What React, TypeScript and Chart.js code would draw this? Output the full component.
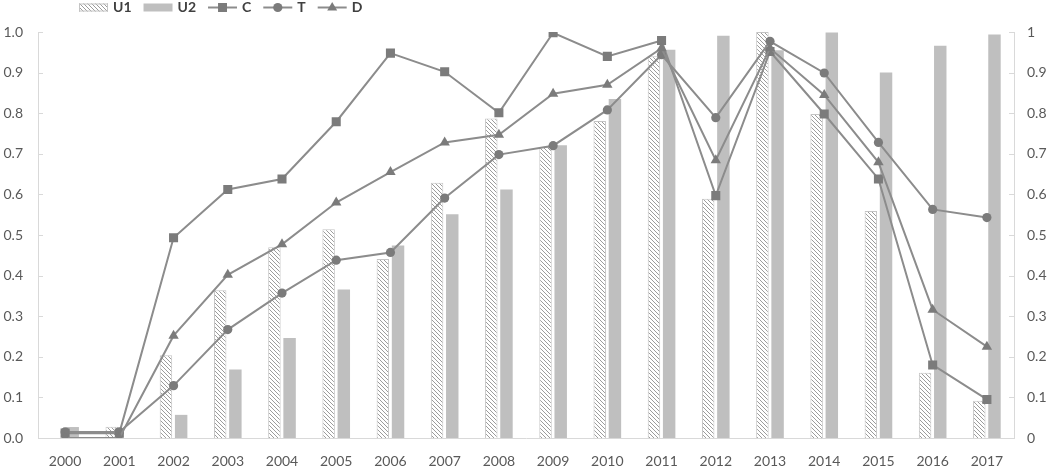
import React, { useEffect, useRef } from 'react';
import { Chart, registerables } from 'chart.js';

Chart.register(...registerables);

const years = ['2000', '2001', '2002', '2003', '2004', '2005', '2006', '2007', '2008', '2009', '2010', '2011', '2012', '2013', '2014', '2015', '2016', '2017'];
const u1 = [0, 0.028, 0.204, 0.364, 0.47, 0.514, 0.441, 0.629, 0.787, 0.717, 0.781, 0.94, 0.589, 1.0, 0.798, 0.559, 0.161, 0.092];
const u2 = [0.027, 0, 0.057, 0.169, 0.246, 0.366, 0.474, 0.551, 0.612, 0.721, 0.835, 0.956, 0.991, 0.955, 0.999, 0.9, 0.966, 0.994];
const cVals = [0.012, 0.012, 0.493, 0.612, 0.638, 0.779, 0.948, 0.902, 0.801, 0.998, 0.94, 0.979, 0.597, 0.952, 0.798, 0.638, 0.18, 0.095];
const tVals = [0.015, 0.015, 0.129, 0.267, 0.357, 0.438, 0.457, 0.591, 0.698, 0.72, 0.808, 0.944, 0.789, 0.977, 0.899, 0.728, 0.563, 0.543];
const dVals = [0, 0, 0.252, 0.402, 0.477, 0.58, 0.655, 0.728, 0.747, 0.848, 0.87, 0.96, 0.684, 0.96, 0.845, 0.679, 0.316, 0.225];
const seriesLabels = ['U1', 'U2', 'C', 'T', 'D'];

const LINE_COLOR = '#8c8c8c';
const MARKER_COLOR = '#7b7b7b';
const AXIS_COLOR = '#d9d9d9';
const TICK_COLOR = '#595959';
const FONT = 'Lato';

function drawMarker(ctx: CanvasRenderingContext2D, style: string, x: number, y: number) {
  ctx.fillStyle = MARKER_COLOR;
  ctx.beginPath();
  if (style === 'rect') {
    ctx.rect(x - 4.5, y - 4.5, 9, 9);
  } else if (style === 'circle') {
    ctx.arc(x, y, 4.6, 0, Math.PI * 2);
  } else {
    ctx.moveTo(x, y - 5.5);
    ctx.lineTo(x + 5, y + 3);
    ctx.lineTo(x - 5, y + 3);
    ctx.closePath();
  }
  ctx.fill();
}

const legendPlugin = {
  id: 'customLegend',
  afterDraw(chart: any) {
    const ctx: CanvasRenderingContext2D = chart.ctx;
    ctx.save();
    ctx.font = `bold 14px ${FONT}`;
    ctx.textBaseline = 'middle';
    let x = 79;
    const y = 7.5;
    chart.data.datasets.forEach((ds: any) => {
      if (ds.type === 'bar') {
        ctx.fillStyle = ds.backgroundColor;
        ctx.fillRect(x, y - 4, 29, 8);
        if (ds.borderWidth) {
          ctx.strokeStyle = ds.borderColor;
          ctx.lineWidth = 1;
          ctx.strokeRect(x + 0.5, y - 3.5, 28, 7);
        }
      } else {
        ctx.strokeStyle = LINE_COLOR;
        ctx.lineWidth = 2;
        ctx.beginPath();
        ctx.moveTo(x, y);
        ctx.lineTo(x + 29, y);
        ctx.stroke();
        drawMarker(ctx, ds.pointStyle, x + 14.5, y);
      }
      ctx.fillStyle = '#404040';
      ctx.textAlign = 'left';
      ctx.fillText(ds.label, x + 34, y);
      x += 34 + ctx.measureText(ds.label).width + 12;
    });
    ctx.restore();
  },
};

const innerTicksPlugin = {
  id: 'innerTicks',
  afterDraw(chart: any) {
    const ctx: CanvasRenderingContext2D = chart.ctx;
    ctx.save();
    ctx.strokeStyle = AXIS_COLOR;
    ctx.lineWidth = 1;
    ['y', 'y2'].forEach((id) => {
      const sc = chart.scales[id];
      sc.ticks.forEach((t: any) => {
        const py = Math.round(sc.getPixelForValue(t.value)) + 0.5;
        ctx.beginPath();
        if (id === 'y') {
          ctx.moveTo(sc.right, py);
          ctx.lineTo(sc.right + 5, py);
        } else {
          ctx.moveTo(sc.left - 5, py);
          ctx.lineTo(sc.left, py);
        }
        ctx.stroke();
      });
    });
    ctx.restore();
  },
};

export default function App() {
  const ref = useRef<HTMLCanvasElement>(null);

  useEffect(() => {
    const canvas = ref.current;
    if (!canvas) return;
    const pc = document.createElement('canvas');
    pc.width = 4;
    pc.height = 4;
    const pctx = pc.getContext('2d')!;
    pctx.fillStyle = '#ffffff';
    pctx.fillRect(0, 0, 4, 4);
    pctx.strokeStyle = '#9c9c9c';
    pctx.lineWidth = 1;
    pctx.beginPath();
    pctx.moveTo(0, 0);
    pctx.lineTo(4, 4);
    pctx.moveTo(-1, 3);
    pctx.lineTo(1, 5);
    pctx.moveTo(3, -1);
    pctx.lineTo(5, 1);
    pctx.stroke();
    const hatch = canvas.getContext('2d')!.createPattern(pc, 'repeat');

    const lineDs = (label: string, data: number[], style: string, radius: number, order: number) => ({
      type: 'line' as const,
      label,
      data,
      borderColor: LINE_COLOR,
      borderWidth: 2,
      backgroundColor: MARKER_COLOR,
      pointStyle: style,
      pointRadius: radius,
      pointBackgroundColor: MARKER_COLOR,
      pointBorderColor: MARKER_COLOR,
      pointBorderWidth: 0,
      tension: 0,
      fill: false,
      order,
      yAxisID: 'y',
    });

    const chart = new Chart(canvas, {
      data: {
        labels: years,
        datasets: [
          {
            type: 'bar',
            label: seriesLabels[0],
            data: u1,
            backgroundColor: hatch as any,
            borderColor: '#c4c4c4',
            borderWidth: 1,
            categoryPercentage: 0.56,
            barPercentage: 0.82,
            order: 9,
            yAxisID: 'y',
          },
          {
            type: 'bar',
            label: seriesLabels[1],
            data: u2,
            backgroundColor: '#bfbfbf',
            borderWidth: 0,
            categoryPercentage: 0.56,
            barPercentage: 0.82,
            order: 10,
            yAxisID: 'y',
          },
          lineDs(seriesLabels[2], cVals, 'rect', 6.4, 3),
          lineDs(seriesLabels[3], tVals, 'circle', 4.6, 2),
          lineDs(seriesLabels[4], dVals, 'triangle', 6, 1),
        ] as any,
      },
      plugins: [legendPlugin, innerTicksPlugin],
      options: {
        animation: false,
        responsive: true,
        maintainAspectRatio: false,
        layout: { padding: { top: 32, left: 0, right: 0, bottom: 0 } },
        plugins: {
          legend: { display: false },
          tooltip: { enabled: false },
        },
        scales: {
          x: {
            offset: true,
            grid: { display: false, drawTicks: false },
            border: { display: true, color: AXIS_COLOR, width: 1 },
            ticks: { color: TICK_COLOR, font: { family: FONT, size: 14 }, padding: 15, maxRotation: 0, autoSkip: false },
            afterFit: (s: any) => { s.height = 29; },
          },
          y: {
            position: 'left',
            min: 0,
            max: 1,
            grid: { display: false, drawTicks: false },
            border: { display: true, color: AXIS_COLOR, width: 1 },
            ticks: {
              stepSize: 0.1,
              color: TICK_COLOR,
              font: { family: FONT, size: 14 },
              padding: 15,
              callback: (v: any) => Number(v).toFixed(1),
            },
            afterFit: (s: any) => { s.width = 38; },
          },
          y2: {
            position: 'right',
            min: 0,
            max: 1,
            grid: { display: false, drawTicks: false },
            border: { display: true, color: AXIS_COLOR, width: 1 },
            ticks: {
              stepSize: 0.1,
              color: TICK_COLOR,
              font: { family: FONT, size: 14 },
              padding: 13,
              callback: (v: any) => String(Number(Number(v).toFixed(1))),
            },
            afterFit: (s: any) => { s.width = 38; },
          },
        },
      } as any,
    });
    return () => chart.destroy();
  }, []);

  return (
    <div style={{ position: 'absolute', left: 0, top: 0, width: 1052, height: 467, background: '#ffffff' }}>
      <canvas ref={ref} />
    </div>
  );
}
